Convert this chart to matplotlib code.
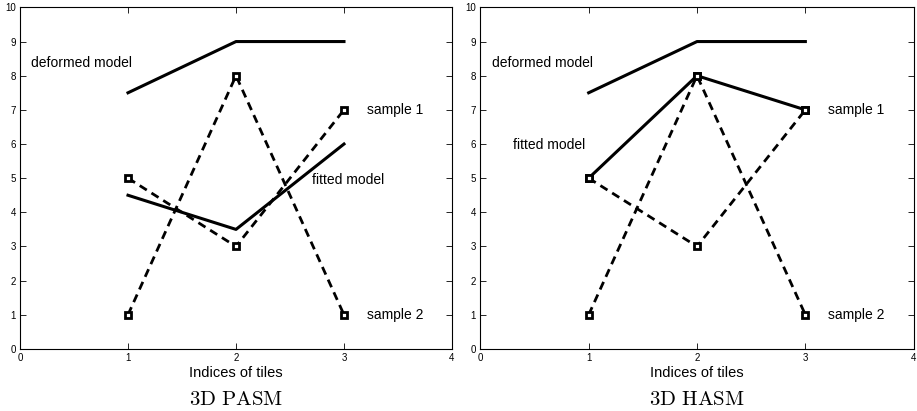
import matplotlib.pyplot as plt

# Data
tiles = [1, 2, 3]
deformed = [7.5, 9, 9]
sample1 = [5, 3, 7]
sample2 = [1, 8, 1]
fitted_pasm = [4.5, 3.5, 6]
fitted_hasm = [5, 8, 7]

plt.rcParams['font.family'] = ['Liberation Sans', 'DejaVu Sans']
plt.rcParams['mathtext.fontset'] = 'cm'

fig = plt.figure(figsize=(9.17, 4.11), dpi=100)
ax1 = fig.add_axes([0.0218, 0.151, 0.4711, 0.831])
ax2 = fig.add_axes([0.5238, 0.151, 0.4726, 0.831])

panels = [
    (ax1, fitted_pasm, False, r'$\mathrm{3D\ PASM}$',
     [(0.1, 8.37, 'deformed model'), (2.70, 4.96, 'fitted model')]),
    (ax2, fitted_hasm, True, r'$\mathrm{3D\ HASM}$',
     [(0.11, 8.37, 'deformed model'), (0.30, 5.98, 'fitted model')]),
]

dash = (0, (3, 2))
mk = dict(marker='s', markersize=4.2, markerfacecolor='white',
          markeredgecolor='black', markeredgewidth=2.0)

for ax, fitted, fit_markers, title, notes in panels:
    ax.plot(tiles, deformed, color='black', lw=2.2)
    ax.plot(tiles, sample1, color='black', lw=2, linestyle=dash, **mk)
    ax.plot(tiles, sample2, color='black', lw=2, linestyle=dash, **mk)
    if fit_markers:
        ax.plot(tiles, fitted, color='black', lw=2.2, **mk)
    else:
        ax.plot(tiles, fitted, color='black', lw=2.2)

    ax.set_xlim(0, 4)
    ax.set_ylim(0, 10)
    ax.set_xticks([0, 1, 2, 3, 4])
    ax.set_yticks(range(0, 11))
    ax.tick_params(direction='in', top=True, right=True, labelsize=7,
                   length=4, width=0.6, pad=3)
    for s in ax.spines.values():
        s.set_linewidth(0.8)

    ax.set_xlabel('Indices of tiles', fontsize=10.5, labelpad=2)
    ax.text(0.5, -0.148, title, ha='center', va='center', fontsize=15,
            transform=ax.transAxes, clip_on=False)

    for x, y, t in notes:
        ax.text(x, y, t, fontsize=10, va='center', ha='left')
    ax.text(3.21, 7, 'sample 1', fontsize=10, va='center', ha='left')
    ax.text(3.21, 1, 'sample 2', fontsize=10, va='center', ha='left')

fig.savefig('out.png', dpi=100)
